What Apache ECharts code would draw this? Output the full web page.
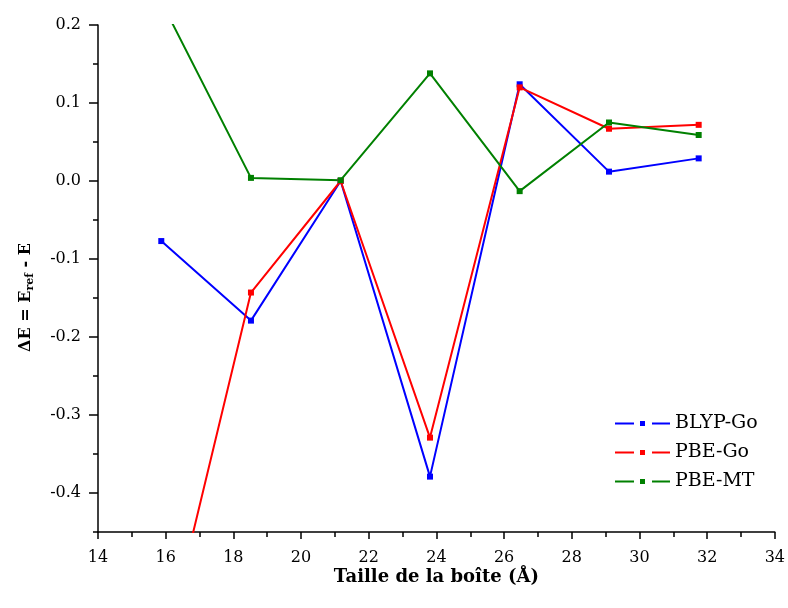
<!DOCTYPE html>
<html>
<head>
<meta charset="utf-8">
<script src="https://cdn.jsdelivr.net/npm/echarts@6/dist/echarts.min.js"></script>
<style>
    html, body { margin: 0; padding: 0; background: #fff; }
    #chart { width: 788px; height: 608px; }
</style>
</head>
<body>
<div id="chart"></div>
<script>
// Box sizes (Angstrom)
var boxSizes = [15.87, 18.52, 21.17, 23.81, 26.46, 29.10, 31.75];

// Energy differences per method
var blypGo = [-0.077, -0.179, 0.0, -0.379, 0.124, 0.012, 0.029];
var pbeGo  = [-0.62, -0.143, 0.0, -0.329, 0.120, 0.067, 0.072];
var pbeMt  = [0.23, 0.004, 0.001, 0.138, -0.013, 0.075, 0.059];

// Tick values for the y axis
var yMajorTicks = [-0.4, -0.3, -0.2, -0.1, 0.0, 0.1, 0.2];
var yMinorTicks = [-0.45, -0.35, -0.25, -0.15, -0.05, 0.05, 0.15];

var fontFam = '"DejaVu Serif", "Liberation Serif", serif';

function pairs(xs, ys) {
    return xs.map(function(x, i) { return [x, ys[i]]; });
}

var chart = echarts.init(document.getElementById('chart'), null, { renderer: 'canvas' });

var lineSeries = function(name, color, values) {
    return {
        name: name,
        type: 'line',
        data: pairs(boxSizes, values),
        symbol: 'rect',
        symbolSize: 6,
        clip: true,
        lineStyle: { color: color, width: 2 },
        itemStyle: { color: color },
        emphasis: { disabled: true }
    };
};

// legend glyph: line - square - line
var legendIcon = 'path://M0,1.5h19v2h-19z M25,0h5v5h-5z M37,1.5h18v2h-18z';

chart.setOption({
    animation: false,
    textStyle: { fontFamily: fontFam },
    grid: { left: 98, right: 11, top: 25, bottom: 76, containLabel: false },
    legend: {
        orient: 'vertical',
        left: 610,
        top: 409,
        icon: legendIcon,
        itemWidth: 55,
        itemHeight: 5,
        itemGap: 10,
        selectedMode: false,
        textStyle: { fontFamily: fontFam, fontSize: 19, color: '#000' },
        data: ['BLYP-Go', 'PBE-Go', 'PBE-MT']
    },
    xAxis: {
        type: 'value',
        min: 14,
        max: 34,
        interval: 2,
        name: 'Taille de la boîte (Å)',
        nameLocation: 'middle',
        nameGap: 36,
        nameMoveOverlap: false,
        nameTextStyle: { fontFamily: fontFam, fontSize: 18, fontWeight: 'bold', color: '#000' },
        axisLine: { show: true, onZero: false, lineStyle: { color: '#000', width: 1.5 } },
        axisTick: { show: true, inside: false, length: 7, lineStyle: { color: '#000', width: 1.5 } },
        minorTick: { show: true, splitNumber: 2, length: 5, lineStyle: { color: '#000', width: 1.5 } },
        axisLabel: { fontFamily: fontFam, fontSize: 16, color: '#000', margin: 18 },
        splitLine: { show: false }
    },
    yAxis: [
        {
            type: 'value',
            min: -0.45,
            max: 0.2,
            name: '{b|ΔE = E}{s|ref}{b| - E}',
            nameLocation: 'middle',
            nameGap: 62,
            nameMoveOverlap: false,
            nameRotate: 90,
            nameTextStyle: {
                padding: [0, 38, 0, 0],
                rich: {
                    b: { fontFamily: fontFam, fontSize: 16, fontWeight: 'bold', color: '#000' },
                    s: { fontFamily: fontFam, fontSize: 11, fontWeight: 'bold', color: '#000', verticalAlign: 'bottom', padding: [9, 0, 0, 0] }
                }
            },
            axisLine: { show: true, onZero: false, lineStyle: { color: '#000', width: 1.5 } },
            axisTick: { show: true, inside: false, length: 9, customValues: yMajorTicks, lineStyle: { color: '#000', width: 1.5 } },
            axisLabel: {
                fontFamily: fontFam, fontSize: 16, color: '#000', margin: 17,
                customValues: yMajorTicks,
                formatter: function(v) { return v.toFixed(1); }
            },
            splitLine: { show: false }
        },
        {
            type: 'value',
            position: 'left',
            min: -0.45,
            max: 0.2,
            axisLine: { show: false },
            axisTick: { show: true, inside: false, length: 5, customValues: yMinorTicks, lineStyle: { color: '#000', width: 1.5 } },
            axisLabel: { show: false },
            splitLine: { show: false }
        }
    ],
    series: [
        lineSeries('BLYP-Go', '#0000ff', blypGo),
        lineSeries('PBE-Go', '#ff0000', pbeGo),
        lineSeries('PBE-MT', '#008000', pbeMt)
    ]
});
</script>
</body>
</html>
